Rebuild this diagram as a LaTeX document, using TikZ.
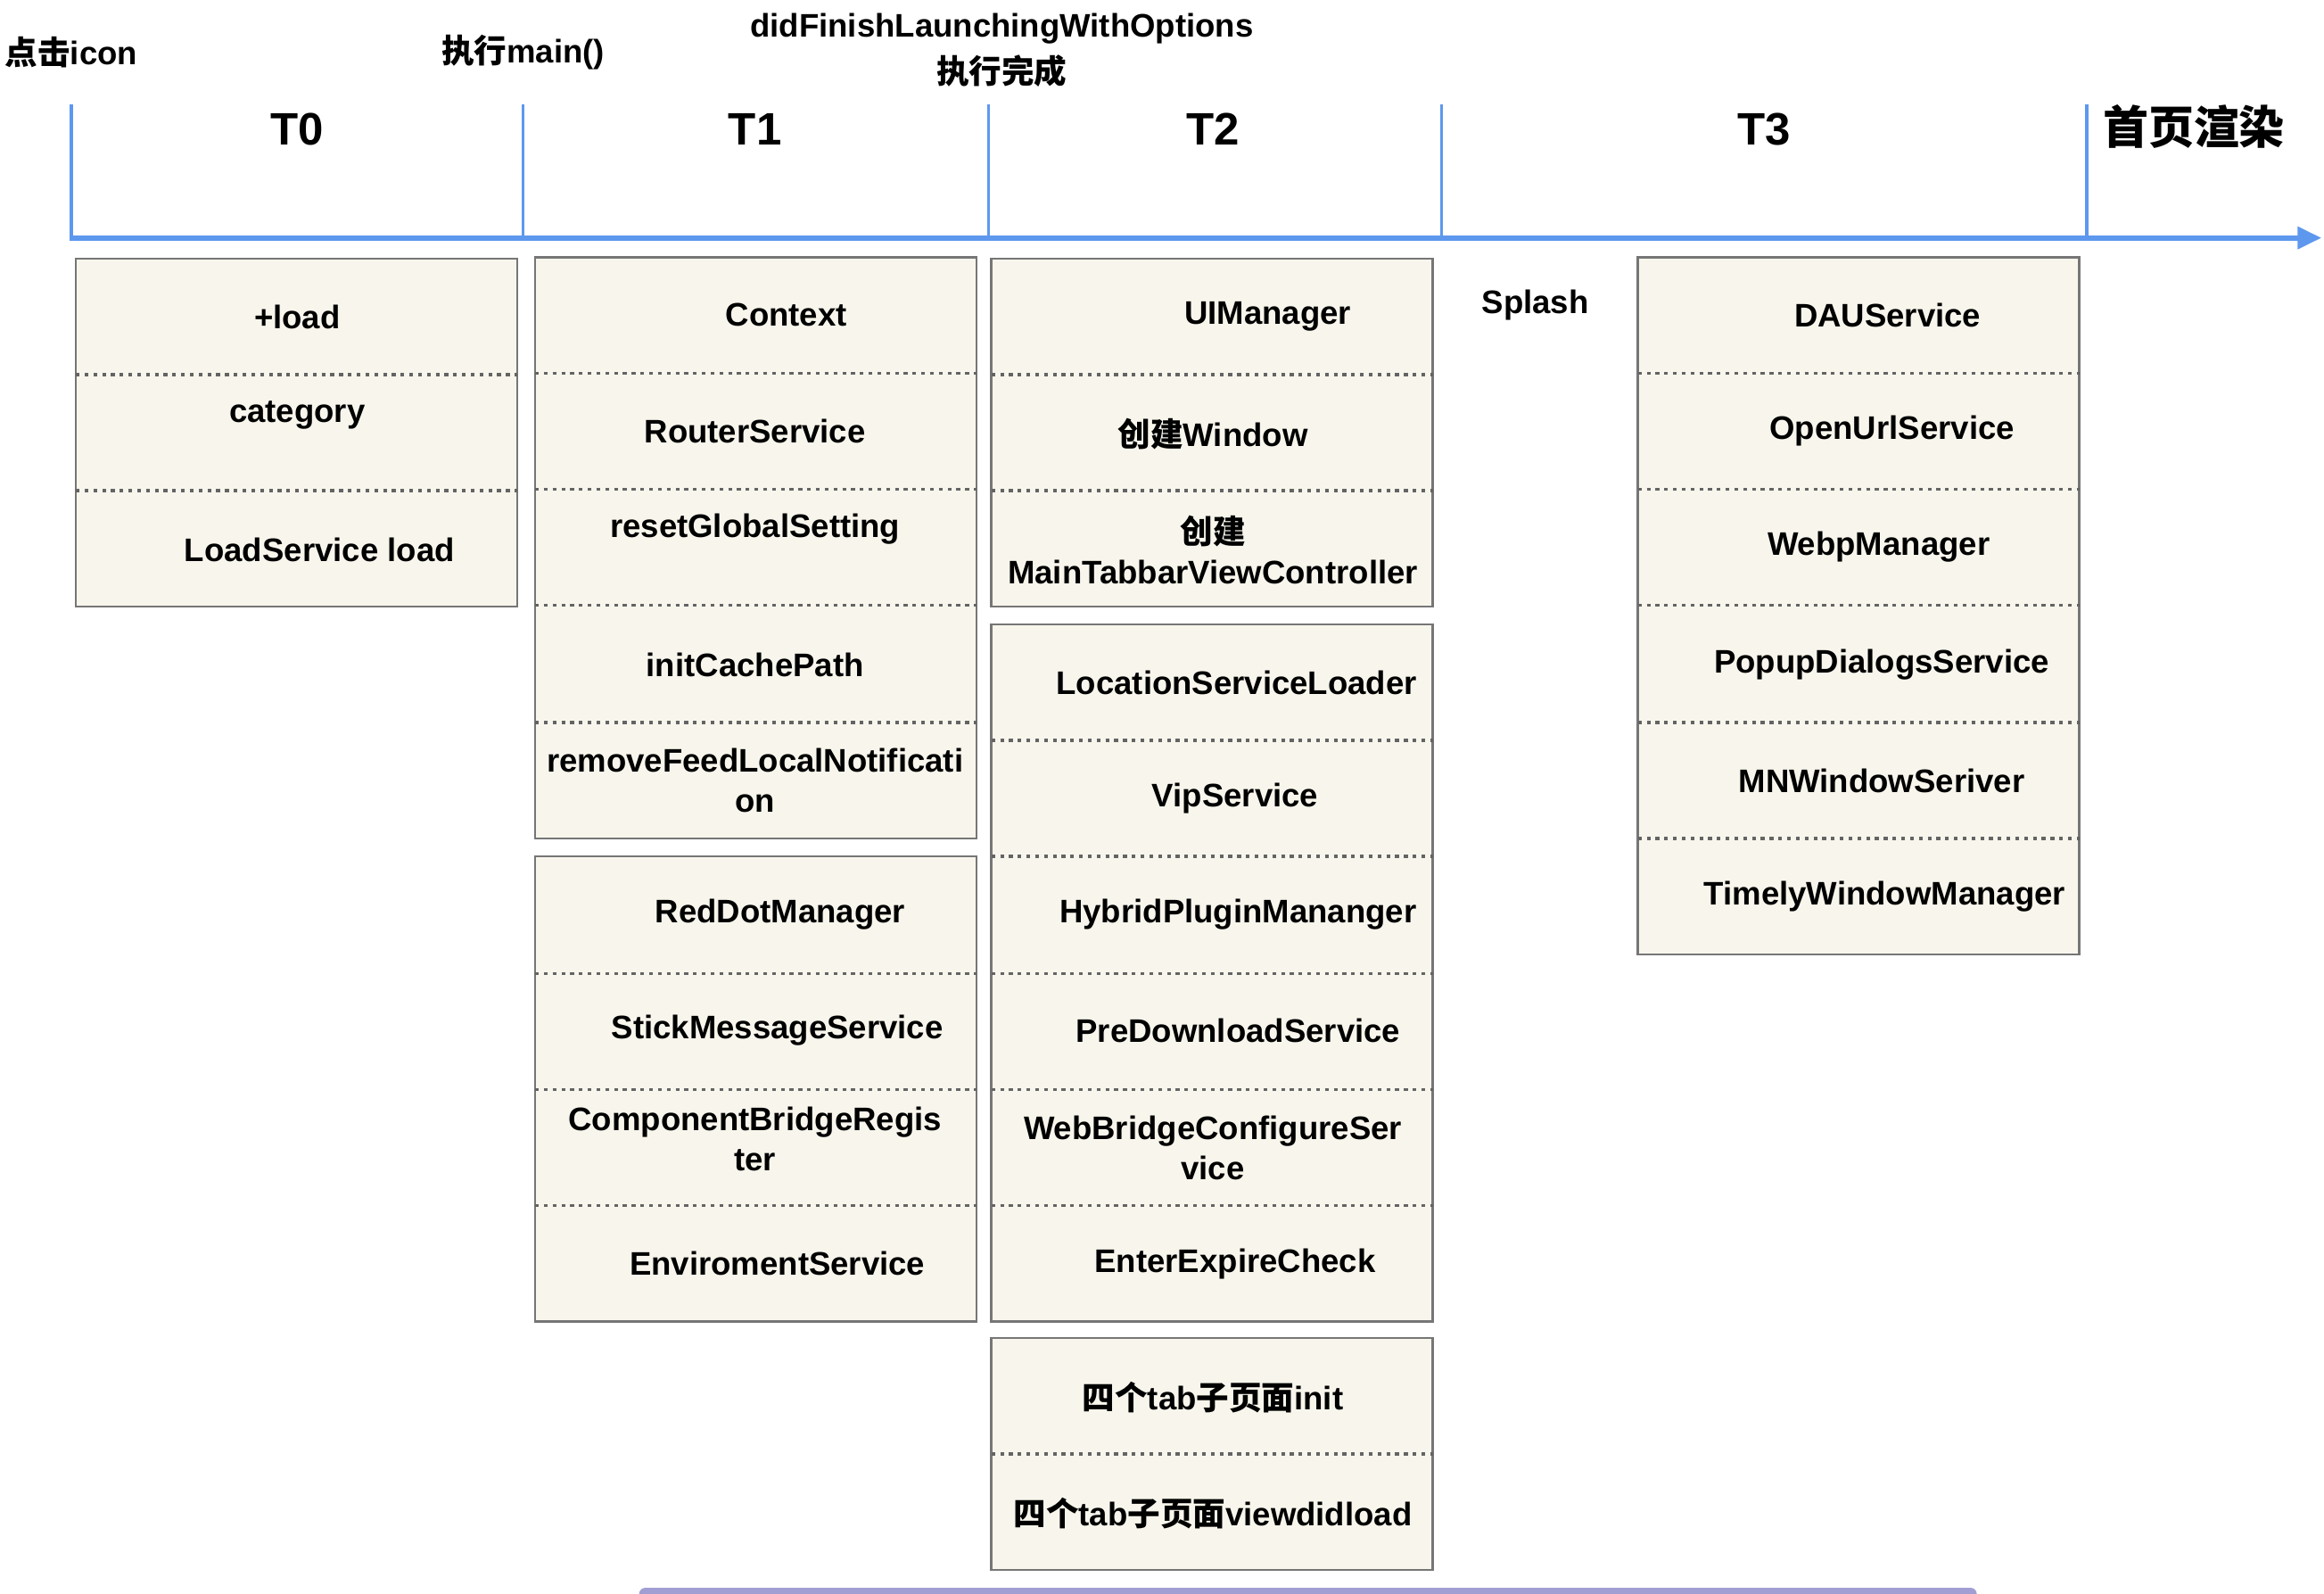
\documentclass[tikz,border=0pt]{standalone}
\usepackage{fontspec}
\setmainfont{Liberation Sans}
\newfontfamily\cjk{Noto Sans CJK SC}
\newcommand{\zh}[1]{{\cjk #1}}
\usetikzlibrary{arrows.meta}

\definecolor{axisblue}{RGB}{93,152,238}
\definecolor{boxfill}{RGB}{248,246,236}
\definecolor{boxline}{RGB}{118,118,118}
\definecolor{barlilac}{RGB}{160,158,210}

\tikzset{
	stagebox/.style={draw=boxline, fill=boxfill, line width=0.8pt},
	sep/.style={boxline!85!black, line width=0.9pt, dash pattern=on 1.2pt off 1.6pt},
	item/.style={font=\fontsize{10.4}{12.8}\selectfont\bfseries, align=center, inner sep=0pt},
	phase/.style={font=\fontsize{14.5}{17}\selectfont\bfseries, inner sep=0pt},
	tickline/.style={axisblue, line width=1pt},
}

\begin{document}
\begin{tikzpicture}[x=0.016667cm, y=-0.016667cm]
	\useasboundingbox (0,0) rectangle (1563.6,1071.6);

	% time axis
	\draw[axisblue, line width=1.8pt, -{Triangle[length=0.27cm, width=0.24cm]}] (47,160) -- (1562,160);
	\foreach \x in {48,352,665,970,1404} \draw[tickline] (\x,70) -- (\x,160);

	\node[phase] (t0) at (200,87) {T0};
	\node[phase] (t1) at (508,87) {T1};
	\node[phase] (t2) at (816,87) {T2};
	\node[phase] (t3) at (1187,87) {T3};
	\node[phase] (render) at (1476,85) {\zh{首页渲染}};

	\node[item] (clickicon) at (48,35) {\zh{点击}icon};
	\node[item] (runmain) at (352,35) {\zh{执行}main()};
	\node[item] (didfinish) at (674,19) {didFinishLaunchingWithOptions};
	\node[item] (didfinishdone) at (674,48) {\zh{执行完成}};

	% T0
	\draw[stagebox] (51,174) rectangle (348,408);
	\foreach \y in {252,330} \draw[sep] (51,\y) -- (348,\y);
	\node[item] (plusload) at (200,213) {+load};
	\node[item] (category) at (200,279) {category};
	\node[item] (loadsvc) at (215,370) {LoadService load};

	% T1
	\draw[stagebox] (360,173) rectangle (657,564);
	\foreach \y in {251,329,407,486} \draw[sep] (360,\y) -- (657,\y);
	\node[item] (context) at (529,212) {Context};
	\node[item] (router) at (508,290) {RouterService};
	\node[item] (resetglobal) at (508,356) {resetGlobalSetting};
	\node[item] (cachepath) at (508,447) {initCachePath};
	\node[item] (removefeed) at (508,525) {removeFeedLocalNotificati\\on};

	\draw[stagebox] (360,576) rectangle (657,889);
	\foreach \y in {655,733,811} \draw[sep] (360,\y) -- (657,\y);
	\node[item] (reddot) at (525,615) {RedDotManager};
	\node[item] (stickmsg) at (523,693) {StickMessageService};
	\node[item] (compbridge) at (508,766) {ComponentBridgeRegis\\ter};
	\node[item] (enviroment) at (523,850) {EnviromentService};

	% T2
	\draw[stagebox] (667,174) rectangle (964,408);
	\foreach \y in {252,330} \draw[sep] (667,\y) -- (964,\y);
	\node[item] (uimanager) at (853,213) {UIManager};
	\node[item] (window) at (816,292) {\zh{创建}Window};
	\node[item] (maintabbar) at (816,370) {\zh{创建}\\MainTabbarViewController};

	\draw[stagebox] (667,420) rectangle (964,889);
	\foreach \y in {498,576,655,733,811} \draw[sep] (667,\y) -- (964,\y);
	\node[item] (location) at (832,459) {LocationServiceLoader};
	\node[item] (vip) at (831,537) {VipService};
	\node[item] (hybrid) at (833,615) {HybridPluginMananger};
	\node[item] (predownload) at (833,693) {PreDownloadService};
	\node[item] (webbridge) at (816,772) {WebBridgeConfigureSer\\vice};
	\node[item] (expire) at (831,850) {EnterExpireCheck};

	\draw[stagebox] (667,900) rectangle (964,1056);
	\draw[sep] (667,978) -- (964,978);
	\node[item] (tabinit) at (816,940) {\zh{四个}tab\zh{子页面}init};
	\node[item] (tabload) at (816,1018) {\zh{四个}tab\zh{子页面}viewdidload};

	\node[item] (splash) at (1033,205) {Splash};

	% T3
	\draw[stagebox] (1102,173) rectangle (1399,642);
	\foreach \y in {251,329,407,486,564} \draw[sep] (1102,\y) -- (1399,\y);
	\node[item] (dau) at (1270,212) {DAUService};
	\node[item] (openurl) at (1273,290) {OpenUrlService};
	\node[item] (webp) at (1264,368) {WebpManager};
	\node[item] (popup) at (1266,447) {PopupDialogsService};
	\node[item] (mnwindow) at (1266,525) {MNWindowSeriver};
	\node[item] (timely) at (1268,603) {TimelyWindowManager};

	% bottom bar
	\fill[barlilac, rounded corners=2pt] (430,1068) rectangle (1330,1078);
\end{tikzpicture}
\end{document}
